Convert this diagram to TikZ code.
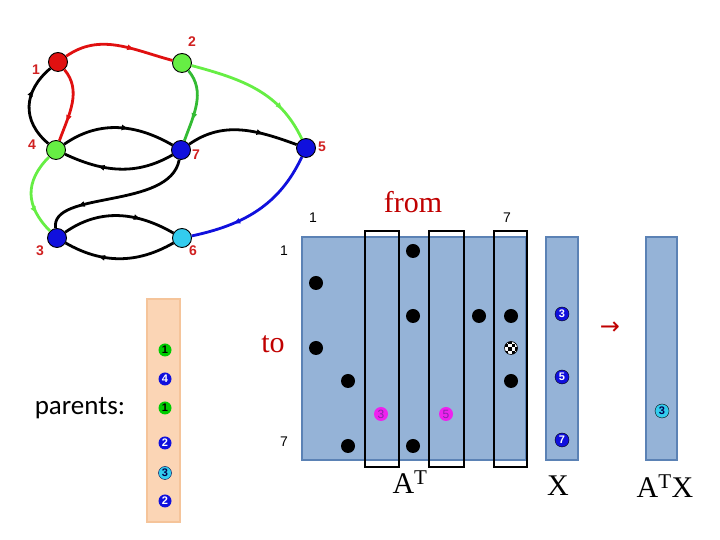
\documentclass[tikz,border=0pt]{standalone}
\usepackage{fontspec}
\setmainfont{Liberation Serif}
\setsansfont{Liberation Sans}
\newfontfamily\calib{Carlito}
\newfontfamily\dejavu{DejaVu Sans}
\usetikzlibrary{arrows.meta,decorations.markings}
\definecolor{cred}{HTML}{E01010}
\definecolor{clabel}{HTML}{D02020}
\definecolor{clg}{HTML}{66EE44}
\definecolor{cdg}{HTML}{33BB33}
\definecolor{cblue}{HTML}{1010DD}
\definecolor{ccyan}{HTML}{33CCEE}
\definecolor{cmat}{HTML}{95B3D7}
\definecolor{cmatb}{HTML}{5B82B5}
\definecolor{cpeach}{HTML}{FBD5B5}
\definecolor{cpeachb}{HTML}{F5C49A}
\definecolor{cmag}{HTML}{EE22EE}
\definecolor{cpurp}{HTML}{8822AA}
\definecolor{cfrom}{HTML}{C00000}
\tikzset{
  gnode/.style={circle, draw=black, line width=0.9pt, minimum size=19, inner sep=0},
  glabel/.style={text=clabel, font=\sffamily\bfseries\fontsize{14}{14}\selectfont, inner sep=0},
  mlabel/.style={font=\sffamily\fontsize{14}{14}\selectfont, inner sep=0},
  edge/.style={line width=2.8pt, postaction={decorate},
    decoration={markings, mark=at position #1 with {\arrow{Latex[length=8pt,width=6pt]}}}},
  edge/.default=0.7,
  dot/.style={circle, fill=black, minimum size=14, inner sep=0},
  numc/.style={circle, inner sep=0, minimum size=14, font=\sffamily\bfseries\fontsize{11}{11}\selectfont},
  bigtext/.style={font=\fontsize{30}{30}\selectfont, inner sep=0},
  colbox/.style={draw=black, line width=2.5pt},
  vecbox/.style={fill=cmat, draw=cmatb, line width=2.5pt}
}
\begin{document}
\begin{tikzpicture}[x=1pt,y=1pt]
\useasboundingbox (0,0) rectangle (720,540);
% graph nodes
\node[gnode, fill=cred]  (n1) at (58,478) {};
\node[gnode, fill=clg]   (n2) at (182,477) {};
\node[gnode, fill=clg]   (n4) at (56,390) {};
\node[gnode, fill=cblue] (n7) at (181,390) {};
\node[gnode, fill=cblue] (n5) at (306,392) {};
\node[gnode, fill=cblue] (n3) at (57,302) {};
\node[gnode, fill=ccyan] (n6) at (182,302) {};
% graph labels
\node[glabel] (l1) at (36,470) {1};
\node[glabel] (l2) at (192,498) {2};
\node[glabel] (l4) at (32,395) {4};
\node[glabel] (l7) at (196,385) {7};
\node[glabel] (l5) at (322,393) {5};
\node[glabel] (l3) at (40,289) {3};
\node[glabel] (l6) at (193,289) {6};
% edges
\draw[edge=0.65, cred] (n1) to[out=35,in=165] (n2);
\draw[edge=0.75, cred] (n1) to[out=-50,in=70] (n4);
\draw[edge=0.7] (n4) to[out=140,in=-140, looseness=1.2] (n1);
\draw[edge=0.72, cdg] (n2) to[out=-50,in=70] (n7);
\draw[edge=0.75, clg] (n2) to[out=-15,in=115] (n5);
\draw[edge=0.6] (n4) to[out=35,in=150] (n7);
\draw[edge=0.7] (n7) to[out=-150,in=-25] (n4);
\draw[edge=0.7] (n7) to[out=35,in=160] (n5);
\draw[edge=0.78] (n7) .. controls (170,330) and (50,350) .. (n3);
\draw[edge=0.75, clg] (n4) to[out=-135,in=135, looseness=1.2] (n3);
\draw[edge=0.7] (n3) to[out=35,in=150] (n6);
\draw[edge=0.7] (n6) to[out=-150,in=-30] (n3);
\draw[edge=0.7, cblue] (n5) to[out=-115,in=12] (n6);
% matrix
\draw[vecbox] (302,303) rectangle (526,80);
\draw[colbox] (365,309) rectangle (399,73);
\draw[colbox] (429,309) rectangle (464,73);
\draw[colbox] (494,309) rectangle (527,73);
\node[dot] (d14) at (413,289) {};
\node[dot] (d21) at (316,257) {};
\node[dot] (d34) at (413,224) {};
\node[dot] (d36) at (479,224) {};
\node[dot] (d37) at (511,224) {};
\node[dot] (d41) at (316,192) {};
\node[circle, draw=black, line width=0.6pt, fill=white, minimum size=13, inner sep=0,
  path picture={\foreach \i/\j in {0/0,0/2,1/1,1/3,2/0,2/2,3/1,3/3}
    \fill[black] ([shift={(\i*3.5pt,\j*3.5pt)}]path picture bounding box.south west) rectangle ++(3.5pt,3.5pt);}]
  (d47) at (511,192) {};
\node[dot] (d52) at (348,159) {};
\node[dot] (d57) at (511,159) {};
\node[numc, fill=cmag, text=cpurp, font=\sffamily\fontsize{12}{12}\selectfont] (d63) at (381,126) {3};
\node[numc, fill=cmag, text=cpurp, font=\sffamily\fontsize{12}{12}\selectfont] (d65) at (446,126) {5};
\node[dot] (d72) at (348,94) {};
\node[dot] (d74) at (413,94) {};
% matrix labels
\node[mlabel] (c1) at (313,322) {1};
\node[mlabel] (c7) at (507,322) {7};
\node[mlabel] (r1) at (284,289) {1};
\node[mlabel] (r7) at (284,98) {7};
\node[bigtext, text=cfrom] (from) at (413,338) {from};
\node[bigtext, text=cfrom] (to) at (273,196) {to};
\node[bigtext] (at) at (410,58) {A\textsuperscript{T}};
% X vector
\draw[vecbox] (546,303) rectangle (578,80);
\node[numc, fill=cblue, draw=black, line width=0.4pt, text=white] (x3) at (562,226) {3};
\node[numc, fill=cblue, draw=black, line width=0.4pt, text=white] (x5) at (562,163) {5};
\node[numc, fill=cblue, draw=black, line width=0.4pt, text=white] (x7) at (562,100) {7};
\node[bigtext] (xl) at (558,54) {X};
\node[text=cfrom, font=\dejavu\fontsize{24}{24}\selectfont, inner sep=0] (arr) at (610,212) {→};
% ATX vector
\draw[vecbox] (646,303) rectangle (677,80);
\node[numc, fill=ccyan, draw=black, line width=0.4pt, text=black!70!blue] (y3) at (662,129) {3};
\node[bigtext] (yl) at (665,54) {A\textsuperscript{T}X};
% parents
\draw[fill=cpeach, draw=cpeachb, line width=2pt] (147,241) rectangle (180,18);
\node[numc, fill=green!80!black, text=black, minimum size=13] (p1) at (165,190) {1};
\node[numc, fill=cblue, text=white, minimum size=13] (p2) at (165,161) {4};
\node[numc, fill=green!80!black, text=black, minimum size=13] (p3) at (165,132) {1};
\node[numc, fill=cblue, text=white, minimum size=13] (p4) at (165,97) {2};
\node[numc, fill=ccyan, draw=black!70!blue, line width=0.4pt, text=black!70!blue, minimum size=13] (p5) at (165,67) {3};
\node[numc, fill=cblue, text=white, minimum size=13] (p6) at (165,39) {2};
\node[font=\calib\fontsize{27}{27}\selectfont, inner sep=0] (par) at (80,132) {parents:};
\end{tikzpicture}
\end{document}
